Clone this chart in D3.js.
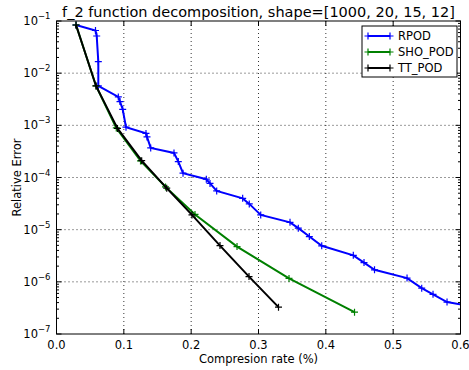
<!DOCTYPE html>
<html>
<head>
<meta charset="utf-8">
<script src="https://cdn.jsdelivr.net/npm/d3@7"></script>
<style>
  body { margin: 0; background: #fff; }
  svg text { font-family: "DejaVu Sans", sans-serif; }
</style>
</head>
<body>
<div id="chart"></div>
<script>
// compression rate (x) and relative error (y) for each method
const rpodX = [0.0290, 0.0579, 0.0597, 0.0621, 0.0621, 0.0918, 0.0943, 0.0983, 0.1032, 0.1329, 0.1344,
  0.1399, 0.1745, 0.1809, 0.1879, 0.2225, 0.2280, 0.2379, 0.2765, 0.2863, 0.3033, 0.3468, 0.3591,
  0.3755, 0.3939, 0.4408, 0.4567, 0.4723, 0.5206, 0.5424, 0.5592, 0.5800, 0.6050];
const rpodY = [0.0838, 0.0657, 0.0516, 0.0166, 0.00569, 0.00350, 0.00285, 0.00203, 0.000920, 0.000700, 0.000600,
  0.000369, 0.000296, 0.000202, 0.000121, 9.27e-5, 7.71e-5, 5.53e-5, 3.98e-5, 3.12e-5, 1.92e-5, 1.38e-5, 1.07e-5,
  7.38e-6, 4.9e-6, 3.22e-6, 2.34e-6, 1.7e-6, 1.18e-6, 7.57e-7, 5.77e-7, 4.1e-7, 3.6e-7];

const shoX = [0.0290, 0.0587, 0.0888, 0.1248, 0.1619, 0.2057, 0.2681, 0.3453, 0.4426];
const shoY = [0.0838, 0.00569, 0.000891, 0.000208, 6.61e-5, 1.96e-5, 4.74e-6, 1.16e-6, 2.62e-7];

const ttX = [0.0290, 0.0587, 0.0906, 0.1265, 0.1637, 0.2012, 0.2428, 0.2859, 0.3297];
const ttY = [0.0838, 0.00569, 0.000873, 0.00021, 6.24e-5, 1.92e-5, 4.96e-6, 1.26e-6, 3.27e-7];

const seriesNames = ['RPOD', 'SHO_POD', 'TT_POD'];
const seriesColors = ['#0000ff', '#008000', '#000000'];
const xTicks = [0, 0.1, 0.2, 0.3, 0.4, 0.5, 0.6];
const yExps = [-1, -2, -3, -4, -5, -6, -7];

const width = 469, height = 370;
const margin = { top: 21, right: 8.5, bottom: 36, left: 56.5 };
const innerW = width - margin.left - margin.right;
const innerH = height - margin.top - margin.bottom;

const svg = d3.select('#chart').append('svg')
  .attr('width', width)
  .attr('height', height);

const x = d3.scaleLinear().domain([0, 0.6]).range([0, innerW]);
const y = d3.scaleLog().domain([1e-7, 1e-1]).range([innerH, 0]);

const g = svg.append('g').attr('transform', `translate(${margin.left},${margin.top})`);

// grid
g.append('g').selectAll('line.vx')
  .data(xTicks.slice(1, -1)).enter().append('line')
  .attr('x1', d => x(d)).attr('x2', d => x(d))
  .attr('y1', 0).attr('y2', innerH)
  .attr('stroke', '#000').attr('stroke-width', 0.8).attr('stroke-dasharray', '1,3');
g.append('g').selectAll('line.hy')
  .data(yExps.slice(1, -1)).enter().append('line')
  .attr('x1', 0).attr('x2', innerW)
  .attr('y1', d => y(Math.pow(10, d))).attr('y2', d => y(Math.pow(10, d)))
  .attr('stroke', '#000').attr('stroke-width', 0.8).attr('stroke-dasharray', '1,3');

// clip for the data
svg.append('defs').append('clipPath').attr('id', 'clip')
  .append('rect').attr('width', innerW).attr('height', innerH);

const line = d3.line().x(d => x(d[0])).y(d => y(d[1]));
const allSeries = [
  d3.zip(rpodX, rpodY),
  d3.zip(shoX, shoY),
  d3.zip(ttX, ttY)
];

const plot = g.append('g').attr('clip-path', 'url(#clip)');
allSeries.forEach((pts, i) => {
  plot.append('path')
    .datum(pts)
    .attr('d', line)
    .attr('fill', 'none')
    .attr('stroke', seriesColors[i])
    .attr('stroke-width', 2);
  const m = 3.5;
  plot.selectAll(null).data(pts).enter().append('path')
    .attr('d', d => `M${x(d[0]) - m},${y(d[1])}h${2 * m}M${x(d[0])},${y(d[1]) - m}v${2 * m}`)
    .attr('stroke', seriesColors[i])
    .attr('stroke-width', 1.2);
});

// frame
g.append('rect').attr('width', innerW).attr('height', innerH)
  .attr('fill', 'none').attr('stroke', '#000').attr('stroke-width', 1);

// x ticks (inside, top and bottom)
xTicks.forEach(t => {
  g.append('line').attr('x1', x(t)).attr('x2', x(t)).attr('y1', innerH).attr('y2', innerH - 5)
    .attr('stroke', '#000');
  g.append('line').attr('x1', x(t)).attr('x2', x(t)).attr('y1', 0).attr('y2', 5)
    .attr('stroke', '#000');
  g.append('text').attr('x', x(t)).attr('y', innerH + 15)
    .attr('text-anchor', 'middle').style('font-size', '11.5px')
    .text(d3.format('.1f')(t));
});

// y ticks: major and minor on both sides
yExps.forEach(e => {
  const v = Math.pow(10, e);
  [[0, 5], [innerW, innerW - 5]].forEach(s => {
    g.append('line').attr('x1', s[0]).attr('x2', s[1]).attr('y1', y(v)).attr('y2', y(v)).attr('stroke', '#000');
  });
  const lbl = g.append('text').attr('x', -6).attr('y', y(v) + 4)
    .attr('text-anchor', 'end').style('font-size', '11.5px');
  lbl.append('tspan').text('10');
  lbl.append('tspan').attr('dy', -6).style('font-size', '8.5px').text('\u2212' + Math.abs(e));
  if (e < -1) {
    for (let k = 2; k <= 9; k++) {
      const mv = k * v;
      [[0, 2.5], [innerW, innerW - 2.5]].forEach(s => {
        g.append('line').attr('x1', s[0]).attr('x2', s[1]).attr('y1', y(mv)).attr('y2', y(mv)).attr('stroke', '#000');
      });
    }
  }
});

// labels
svg.append('text').attr('x', margin.left + innerW / 2).attr('y', 17)
  .attr('text-anchor', 'middle').style('font-size', '14.5px')
  .text('f_2 function decomposition, shape=[1000, 20, 15, 12]');
svg.append('text').attr('x', margin.left + innerW / 2).attr('y', 363)
  .attr('text-anchor', 'middle').style('font-size', '11.5px')
  .text('Compresion rate (%)');
svg.append('text')
  .attr('transform', `translate(21,${margin.top + innerH / 2}) rotate(-90)`)
  .attr('text-anchor', 'middle').style('font-size', '11.5px')
  .text('Relative Error');

// legend
const lg = svg.append('g').attr('transform', 'translate(362,26)');
lg.append('rect').attr('width', 95).attr('height', 51)
  .attr('fill', '#fff').attr('stroke', '#000').attr('stroke-width', 1);
seriesNames.forEach((name, i) => {
  const ly = 10 + i * 16;
  lg.append('line').attr('x1', 6).attr('x2', 28).attr('y1', ly).attr('y2', ly)
    .attr('stroke', seriesColors[i]).attr('stroke-width', 2);
  [6, 28].forEach(px => {
    lg.append('path').attr('d', `M${px - 3.5},${ly}h7M${px},${ly - 3.5}v7`)
      .attr('stroke', seriesColors[i]).attr('stroke-width', 1.2);
  });
  lg.append('text').attr('x', 36).attr('y', ly + 4).style('font-size', '11.5px').text(name);
});
</script>
</body>
</html>
